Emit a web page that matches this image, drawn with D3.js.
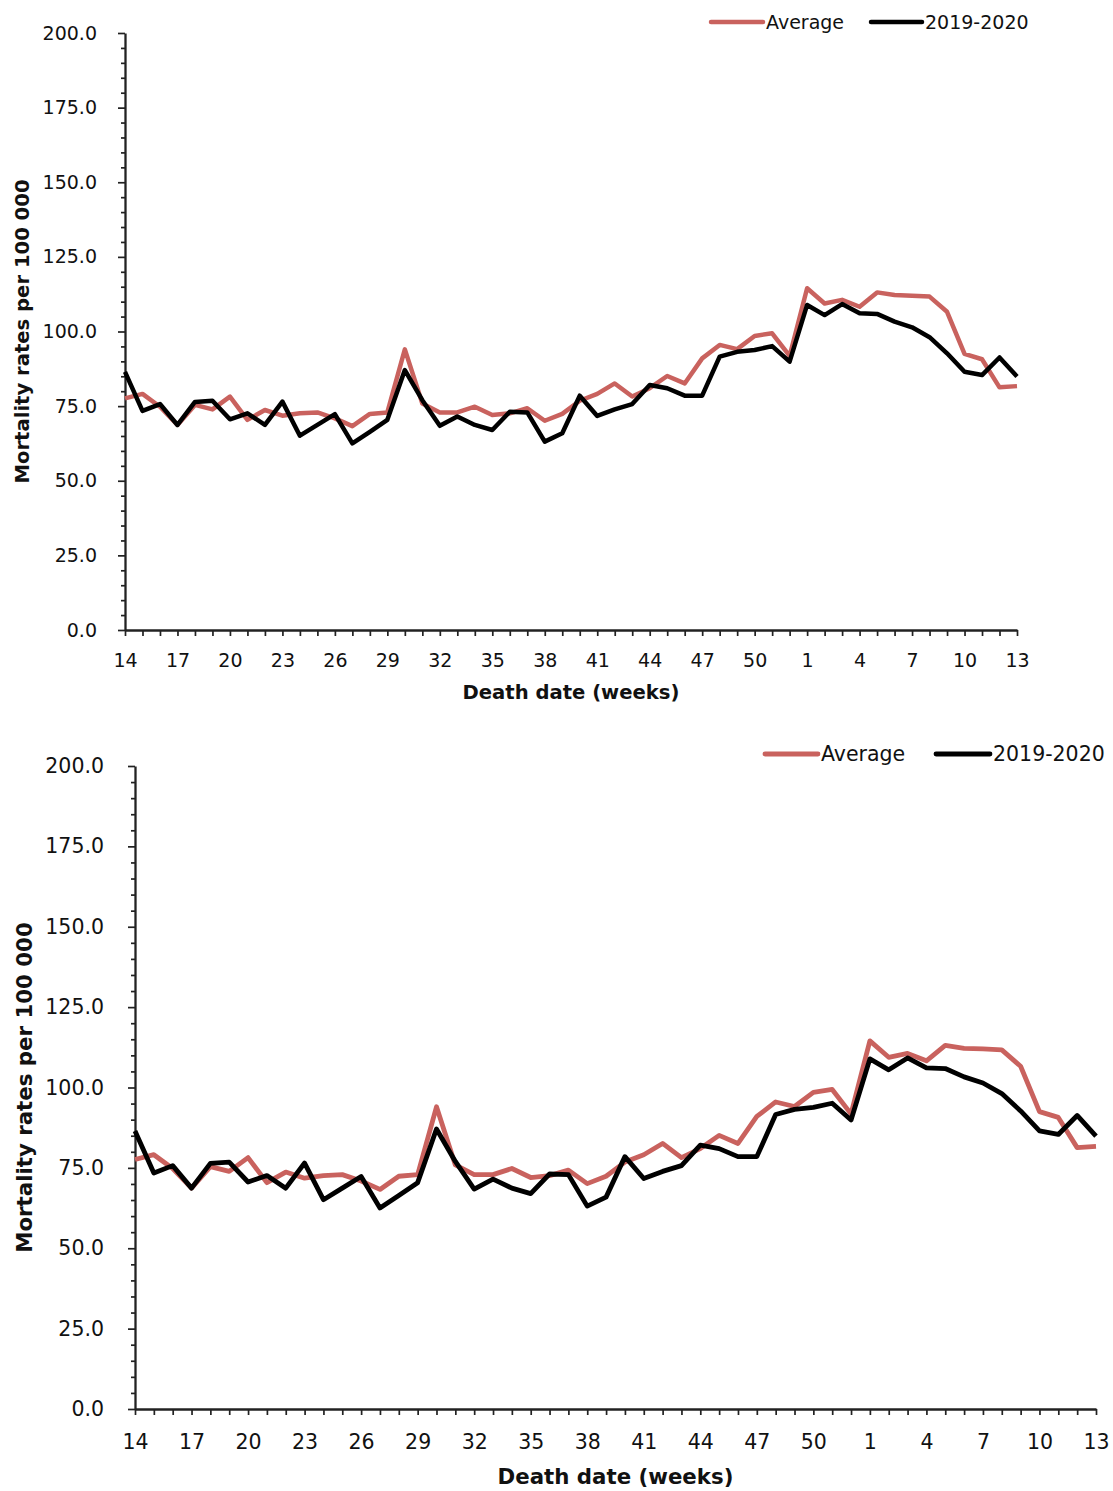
<!DOCTYPE html>
<html>
<head>
<meta charset="utf-8">
<script src="https://cdn.jsdelivr.net/npm/d3@7"></script>
<style>
  html, body { margin: 0; padding: 0; background: #fff; }
  svg { display: block; }
  text { font-family: "DejaVu Sans", Verdana, sans-serif; fill: #111; }
</style>
</head>
<body>
<svg id="chart" width="1113" height="1491"></svg>
<script>
// ---- Data ----
const weeks = [14,15,16,17,18,19,20,21,22,23,24,25,26,27,28,29,30,31,32,33,34,35,36,37,38,39,40,41,42,43,44,45,46,47,48,49,50,51,52,1,2,3,4,5,6,7,8,9,10,11,12,13];
const labelledWeeks = [14,17,20,23,26,29,32,35,38,41,44,47,50,1,4,7,10,13];
const average = [77.6,79.1,74.8,68.7,75.4,73.9,78.2,70.4,73.7,71.8,72.6,72.9,70.9,68.3,72.4,72.9,94.0,75.9,72.9,72.9,74.8,72.0,72.6,74.3,70.1,72.4,76.8,79.1,82.6,78.2,81.0,85.1,82.6,91.0,95.5,94.1,98.5,99.4,91.8,114.5,109.4,110.6,108.3,113.1,112.2,112.0,111.7,106.6,92.5,90.7,81.3,81.7];
const season2019_2020 = [86.5,73.4,75.7,68.7,76.4,76.8,70.6,72.6,68.7,76.5,65.1,68.7,72.3,62.5,66.4,70.4,87.1,77.0,68.4,71.5,68.7,67.0,73.1,72.9,63.1,65.9,78.5,71.7,73.9,75.7,82.1,81.0,78.5,78.5,91.6,93.2,93.8,95.1,89.9,108.9,105.5,109.2,106.1,105.9,103.3,101.4,98.1,92.7,86.5,85.4,91.3,84.9];
const yMajorTicks = [0,25,50,75,100,125,150,175,200];
const seriesNames = ["Average", "2019-2020"];
const seriesColors = ["#C9625E", "#000000"];
const xTitle = "Death date (weeks)";
const yTitle = "Mortality rates per 100 000";

const svg = d3.select("#chart");

function drawPanel(cfg) {
  const g = svg.append("g");
  const x = d3.scalePoint().domain(weeks).range([cfg.left, cfg.right]).padding(0);
  const y = d3.scaleLinear().domain([0, 200]).range([cfg.bottom, cfg.top]);

  // minor y ticks
  const minorVals = d3.range(0, 201, 5).filter(v => v % 25 !== 0);
  g.append("g")
    .attr("transform", `translate(${cfg.left},0)`)
    .call(d3.axisLeft(y).tickValues(minorVals).tickSize(cfg.minorTick).tickSizeOuter(0).tickFormat(""))
    .call(s => s.select(".domain").remove())
    .call(s => s.selectAll("line").attr("stroke", "#222").attr("stroke-width", 1.7));

  // major y axis
  const yAx = g.append("g")
    .attr("transform", `translate(${cfg.left},0)`)
    .call(d3.axisLeft(y).tickValues(yMajorTicks).tickSize(cfg.majorTick).tickSizeOuter(0)
      .tickPadding(cfg.yPad).tickFormat(d3.format(".1f")));
  yAx.select(".domain").attr("stroke", "#222").attr("stroke-width", 2.3);
  yAx.selectAll("line").attr("stroke", "#222").attr("stroke-width", 1.7);
  yAx.selectAll("text").attr("font-size", cfg.font).attr("font-family", "DejaVu Sans").attr("fill", "#111");

  // x axis
  const xAx = g.append("g")
    .attr("transform", `translate(0,${cfg.bottom})`)
    .call(d3.axisBottom(x).tickValues(weeks).tickSize(cfg.xTick).tickSizeOuter(0)
      .tickPadding(cfg.xPad).tickFormat(d => labelledWeeks.includes(d) ? d : ""));
  xAx.select(".domain").attr("stroke", "#222").attr("stroke-width", 2.3);
  xAx.selectAll("line").attr("stroke", "#222").attr("stroke-width", 1.7);
  xAx.selectAll("text").attr("font-size", cfg.font).attr("font-family", "DejaVu Sans").attr("fill", "#111");

  // lines
  const line = d3.line().x((d, i) => x(weeks[i])).y(d => y(d)).curve(d3.curveLinear);
  [average, season2019_2020].forEach((vals, k) => {
    g.append("path")
      .datum(vals)
      .attr("fill", "none")
      .attr("stroke", seriesColors[k])
      .attr("stroke-width", cfg.lineW)
      .attr("stroke-linejoin", "round")
      .attr("d", line);
  });

  // titles
  g.append("text")
    .attr("x", (cfg.left + cfg.right) / 2)
    .attr("y", cfg.xTitleY)
    .attr("text-anchor", "middle")
    .attr("dominant-baseline", "central")
    .attr("font-weight", "bold")
    .attr("font-size", cfg.bold)
    .text(xTitle);
  g.append("text")
    .attr("transform", `translate(${cfg.yTitleX},${(cfg.top + cfg.bottom) / 2}) rotate(-90)`)
    .attr("text-anchor", "middle")
    .attr("dominant-baseline", "central")
    .attr("font-weight", "bold")
    .attr("font-size", cfg.bold)
    .text(yTitle);

  // legend
  seriesNames.forEach((name, k) => {
    const lg = cfg.legend[k];
    g.append("line")
      .attr("x1", lg[0]).attr("x2", lg[1])
      .attr("y1", cfg.legendY).attr("y2", cfg.legendY)
      .attr("stroke", seriesColors[k]).attr("stroke-width", cfg.lineW)
      .attr("stroke-linecap", "round");
    g.append("text")
      .attr("x", lg[1] + 3)
      .attr("y", cfg.legendY)
      .attr("dominant-baseline", "central")
      .attr("font-size", cfg.font)
      .text(name);
  });
}

drawPanel({
  left: 125, right: 1017, top: 33, bottom: 630,
  font: 19, bold: 19.6, lineW: 4.5,
  majorTick: 7, minorTick: 4, xTick: 6, yPad: 21, xPad: 18,
  xTitleY: 692, yTitleX: 22,
  legendY: 22, legend: [[711, 763], [871, 922]]
});
drawPanel({
  left: 135, right: 1096, top: 766, bottom: 1409,
  font: 20.5, bold: 21.3, lineW: 4.8,
  majorTick: 7, minorTick: 4, xTick: 6, yPad: 24, xPad: 19,
  xTitleY: 1476, yTitleX: 24,
  legendY: 754, legend: [[765, 818], [936, 990]]
});
</script>
</body>
</html>
